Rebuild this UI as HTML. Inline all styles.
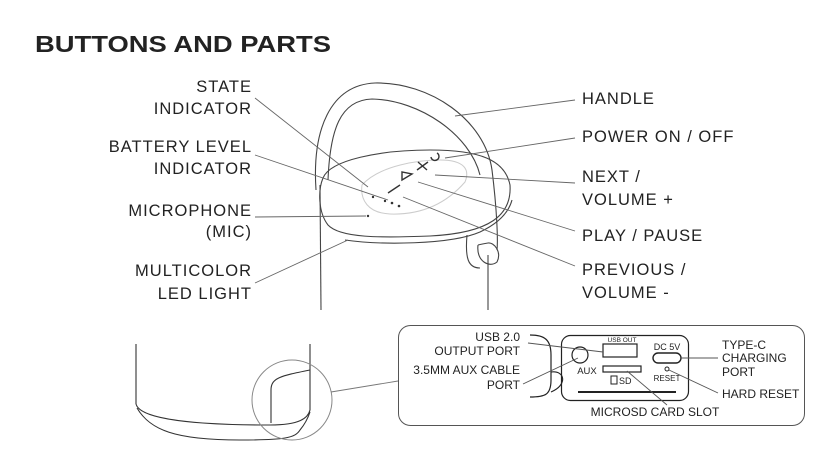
<!DOCTYPE html>
<html><head><style>
html,body{margin:0;padding:0;background:#fff;}
svg{display:block;}
text{font-family:"Liberation Sans",sans-serif;fill:#222;}
</style></head><body>
<svg width="839" height="476" viewBox="0 0 839 476" xmlns="http://www.w3.org/2000/svg">
<text x="35" y="52" font-size="23" font-weight="bold" fill="#111" textLength="296" lengthAdjust="spacingAndGlyphs">BUTTONS AND PARTS</text>
<g font-size="16.5" text-anchor="end" fill="#3a3a3a" letter-spacing="1">
<text x="252" y="92">STATE</text>
<text x="252" y="114">INDICATOR</text>
<text x="252" y="152">BATTERY LEVEL</text>
<text x="252" y="174">INDICATOR</text>
<text x="252" y="216">MICROPHONE</text>
<text x="252" y="237">(MIC)</text>
<text x="252" y="276">MULTICOLOR</text>
<text x="252" y="299">LED LIGHT</text>
</g>
<g font-size="16.5" fill="#3a3a3a" letter-spacing="1">
<text x="582" y="104">HANDLE</text>
<text x="582" y="142">POWER ON / OFF</text>
<text x="582" y="182">NEXT /</text>
<text x="582" y="205">VOLUME +</text>
<text x="582" y="241">PLAY / PAUSE</text>
<text x="582" y="275">PREVIOUS /</text>
<text x="582" y="298">VOLUME -</text>
</g>
<g fill="none" stroke="#444" stroke-width="1.1">
<path d="M316,190 C312,130 330,85 375,83 C430,82 485,120 492,170 C497,210 498,240 497,250"/>
<path d="M328,180 C330,130 340,100 372,99 C420,100 470,135 480,175"/>
<path d="M320,185 L321,310"/>
<path d="M488,255 L488,310"/>
<path d="M323,178 C330,160 380,150 430,150 C480,150 505,160 510,185 C512,215 490,233 430,236 C380,238 340,238 328,225 C318,212 318,190 323,178Z"/>
<path d="M345,240 C380,245 450,245 480,232 C495,225 508,215 512,200"/>
<path d="M478,245 C476,262 490,268 497,262 C502,252 494,242 488,243 C482,244 478,245 478,245"/>
<path d="M467,235 C465,258 468,268 480,268"/>
</g>
<path d="M362,185 C360,200 368,213 390,214 C420,215 445,205 465,182 C470,170 465,160 440,160 C420,160 380,165 362,185Z" fill="none" stroke="#ccc" stroke-width="1"/>
<g fill="#333">
<circle cx="373" cy="197" r="1.2"/><circle cx="385" cy="201" r="1.2"/><circle cx="392" cy="203" r="1.3"/><circle cx="399" cy="206" r="1.3"/><circle cx="368" cy="216" r="1.2"/>
</g>
<g fill="none" stroke="#333" stroke-width="1.4">
<path d="M388,193 L400,185"/>
<path d="M402,180 L412,174 L402,172 Z"/>
<path d="M417,170 L428,162 M418,162 L427,170"/>
<path d="M431,157 A4,4 0 1 0 437,153"/>
</g>
<g stroke="#666" stroke-width="0.9" fill="none">
<path d="M255,98 L368,187"/>
<path d="M255,155 L388,200"/>
<path d="M255,217 L366,216"/>
<path d="M255,283 L348,240"/>
<path d="M455,116 L575,100"/>
<path d="M445,158 L575,138"/>
<path d="M435,175 L575,183"/>
<path d="M418,182 L575,231"/>
<path d="M403,197 L575,266"/>
</g>
<g fill="none" stroke="#333" stroke-width="1.1">
<path d="M136,344 L136,404"/>
<path d="M310,344 L310,410"/>
<path d="M136,404 C140,420 200,425 270,425 C300,425 308,418 310,410"/>
<path d="M137,408 C150,430 175,440 240,440 C285,440 295,438 300,430 C305,424 308,418 310,412"/>
<path d="M271,423 L271,390 C271,378 280,376 310,370"/>
</g>
<circle cx="292" cy="400" r="40" fill="none" stroke="#888" stroke-width="1"/>
<path d="M331,392 L398,381" stroke="#777" stroke-width="0.9"/>
<rect x="398.5" y="325.5" width="406" height="100" rx="12" fill="none" stroke="#555" stroke-width="1"/>
<rect x="561.5" y="335.5" width="127" height="65" rx="9" fill="none" stroke="#222" stroke-width="1.2"/>
<path d="M530,335 C545,335 551,340 551,355 L551,380 C551,395 545,397 530,397" fill="none" stroke="#222" stroke-width="1.2"/>
<path d="M551,372 C565,370 568,385 551,392" fill="none" stroke="#222" stroke-width="1.1"/>
<circle cx="580" cy="355" r="8" fill="none" stroke="#222" stroke-width="1.2"/>
<rect x="603" y="344" width="34" height="13" fill="none" stroke="#222" stroke-width="1.2"/>
<rect x="603" y="366" width="38" height="6" fill="none" stroke="#222" stroke-width="1.2"/>
<rect x="653" y="353" width="28" height="10" rx="5" fill="none" stroke="#222" stroke-width="1.4"/>
<circle cx="667" cy="369" r="2" fill="none" stroke="#222"/>
<path d="M578,392 L676,392" stroke="#222" stroke-width="2"/>
<rect x="611" y="376" width="6" height="8" fill="none" stroke="#222"/>
<g font-size="9" fill="#222">
<text x="587" y="374" text-anchor="middle" font-size="9.5">AUX</text>
<text x="622" y="342" text-anchor="middle" font-size="6.5">USB OUT</text>
<text x="619" y="384">SD</text>
<text x="667" y="350" text-anchor="middle">DC 5V</text>
<text x="667" y="381" text-anchor="middle" font-size="8">RESET</text>
</g>
<g font-size="12" fill="#3a3a3a">
<text x="520" y="341" text-anchor="end">USB 2.0</text>
<text x="520" y="355" text-anchor="end">OUTPUT PORT</text>
<text x="520" y="374" text-anchor="end">3.5MM AUX CABLE</text>
<text x="520" y="389" text-anchor="end">PORT</text>
<text x="722" y="349">TYPE-C</text>
<text x="722" y="362">CHARGING</text>
<text x="722" y="376">PORT</text>
<text x="722" y="398">HARD RESET</text>
<text x="655" y="416" text-anchor="middle">MICROSD CARD SLOT</text>
</g>
<g stroke="#555" stroke-width="0.9" fill="none">
<path d="M528,343 L603,352"/>
<path d="M523,384 L578,358"/>
<path d="M681,358 L718,358"/>
<path d="M669,370 L718,393"/>
<path d="M627,371 L667,405"/>
</g>
</svg>
</body></html>
